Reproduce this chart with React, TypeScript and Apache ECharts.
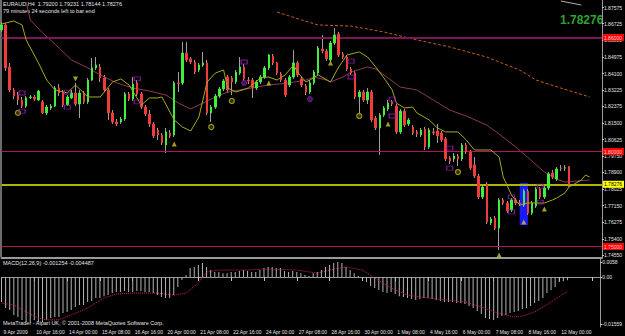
import React, { useEffect, useRef } from "react";
import * as echarts from "echarts";

// ---------- DATA ----------
const timeLabels = [
  "9 Apr 2009", "10 Apr 16:00", "14 Apr 00:00", "15 Apr 08:00", "16 Apr 16:00", "20 Apr 00:00",
  "21 Apr 08:00", "22 Apr 16:00", "24 Apr 00:00", "27 Apr 08:00", "28 Apr 16:00", "30 Apr 00:00",
  "1 May 08:00", "4 May 16:00", "6 May 00:00", "7 May 08:00", "8 May 16:00", "12 May 00:00",
];

// [open, high, low, close]
const candles: [number, number, number, number][] = [
  [1.8640, 1.8681, 1.8629, 1.8666], [1.8666, 1.8676, 1.8424, 1.8440], [1.8445, 1.8466, 1.8313, 1.8324],
  [1.8324, 1.8334, 1.8276, 1.8292], [1.8297, 1.8313, 1.8245, 1.8271], [1.8271, 1.8287, 1.8229, 1.8239],
  [1.8239, 1.8292, 1.8229, 1.8282], [1.8284, 1.8297, 1.8276, 1.8287], [1.8287, 1.8297, 1.8266, 1.8276],
  [1.8271, 1.8324, 1.8266, 1.8318], [1.8261, 1.8271, 1.8197, 1.8203], [1.8203, 1.8245, 1.8192, 1.8234],
  [1.8229, 1.8250, 1.8218, 1.8239], [1.8239, 1.8345, 1.8234, 1.8334], [1.8334, 1.8355, 1.8292, 1.8308],
  [1.8313, 1.8324, 1.8234, 1.8245], [1.8245, 1.8297, 1.8239, 1.8287], [1.8282, 1.8324, 1.8276, 1.8308],
  [1.8308, 1.8361, 1.8239, 1.8250], [1.8250, 1.8324, 1.8176, 1.8308], [1.8308, 1.8318, 1.8250, 1.8261],
  [1.8261, 1.8387, 1.8250, 1.8376], [1.8376, 1.8492, 1.8371, 1.8440], [1.8440, 1.8497, 1.8429, 1.8455],
  [1.8445, 1.8461, 1.8366, 1.8387], [1.8387, 1.8403, 1.8313, 1.8324], [1.8324, 1.8334, 1.8166, 1.8203],
  [1.8203, 1.8218, 1.8145, 1.8155], [1.8155, 1.8171, 1.8134, 1.8145], [1.8155, 1.8182, 1.8145, 1.8171],
  [1.8171, 1.8313, 1.8161, 1.8303], [1.8303, 1.8313, 1.8266, 1.8276], [1.8276, 1.8392, 1.8266, 1.8355],
  [1.8361, 1.8376, 1.8292, 1.8303], [1.8303, 1.8313, 1.8224, 1.8234], [1.8234, 1.8245, 1.8187, 1.8197],
  [1.8197, 1.8218, 1.8129, 1.8145], [1.8145, 1.8155, 1.8071, 1.8082], [1.8113, 1.8124, 1.8061, 1.8087],
  [1.8087, 1.8097, 1.8034, 1.8045], [1.8034, 1.8124, 1.7992, 1.8103], [1.8097, 1.8113, 1.8071, 1.8082],
  [1.8087, 1.8371, 1.8076, 1.8361], [1.8361, 1.8418, 1.8313, 1.8358], [1.8361, 1.8576, 1.8350, 1.8518],
  [1.8518, 1.8576, 1.8471, 1.8482], [1.8487, 1.8497, 1.8461, 1.8471], [1.8471, 1.8482, 1.8408, 1.8418],
  [1.8429, 1.8466, 1.8418, 1.8455], [1.8455, 1.8524, 1.8445, 1.8466], [1.8466, 1.8482, 1.8192, 1.8203],
  [1.8203, 1.8245, 1.8155, 1.8234], [1.8234, 1.8303, 1.8224, 1.8292], [1.8292, 1.8339, 1.8282, 1.8329],
  [1.8329, 1.8382, 1.8318, 1.8371], [1.8392, 1.8403, 1.8308, 1.8324], [1.8387, 1.8397, 1.8297, 1.8366],
  [1.8366, 1.8429, 1.8355, 1.8418], [1.8413, 1.8497, 1.8403, 1.8445], [1.8445, 1.8461, 1.8371, 1.8382],
  [1.8376, 1.8392, 1.8355, 1.8371], [1.8376, 1.8387, 1.8282, 1.8334], [1.8334, 1.8376, 1.8324, 1.8366],
  [1.8366, 1.8403, 1.8355, 1.8392], [1.8392, 1.8450, 1.8382, 1.8440], [1.8440, 1.8513, 1.8429, 1.8508],
  [1.8503, 1.8513, 1.8455, 1.8466], [1.8466, 1.8471, 1.8403, 1.8413], [1.8408, 1.8418, 1.8366, 1.8376],
  [1.8376, 1.8387, 1.8287, 1.8297], [1.8350, 1.8403, 1.8339, 1.8392], [1.8392, 1.8534, 1.8382, 1.8466],
  [1.8466, 1.8476, 1.8392, 1.8403], [1.8382, 1.8392, 1.8339, 1.8350], [1.8345, 1.8355, 1.8297, 1.8313],
  [1.8313, 1.8376, 1.8303, 1.8361], [1.8361, 1.8429, 1.8350, 1.8418], [1.8413, 1.8555, 1.8403, 1.8545],
  [1.8539, 1.8613, 1.8518, 1.8529], [1.8529, 1.8539, 1.8476, 1.8487], [1.8482, 1.8582, 1.8471, 1.8571],
  [1.8571, 1.8650, 1.8561, 1.8613], [1.8618, 1.8629, 1.8497, 1.8508], [1.8513, 1.8524, 1.8487, 1.8497],
  [1.8497, 1.8508, 1.8424, 1.8434], [1.8434, 1.8445, 1.8403, 1.8413], [1.8413, 1.8424, 1.8276, 1.8287],
  [1.8287, 1.8324, 1.8187, 1.8313], [1.8313, 1.8324, 1.8261, 1.8271], [1.8271, 1.8334, 1.8250, 1.8313],
  [1.8313, 1.8324, 1.8155, 1.8166], [1.8176, 1.8187, 1.8113, 1.8124], [1.8124, 1.8203, 1.7982, 1.8192],
  [1.8192, 1.8239, 1.8182, 1.8229], [1.8224, 1.8271, 1.8213, 1.8255], [1.8261, 1.8271, 1.8239, 1.8250],
  [1.8239, 1.8250, 1.8092, 1.8103], [1.8103, 1.8224, 1.8092, 1.8213], [1.8213, 1.8224, 1.8129, 1.8139],
  [1.8145, 1.8176, 1.8134, 1.8166], [1.8129, 1.8139, 1.8087, 1.8097], [1.8103, 1.8113, 1.8076, 1.8092],
  [1.8087, 1.8124, 1.8076, 1.8113], [1.8118, 1.8129, 1.8008, 1.8024], [1.8024, 1.8124, 1.8013, 1.8113],
  [1.8103, 1.8124, 1.8087, 1.8097], [1.8108, 1.8145, 1.8045, 1.8082], [1.8097, 1.8108, 1.8050, 1.8061],
  [1.8066, 1.8076, 1.7950, 1.7961], [1.7966, 1.7976, 1.7934, 1.7950], [1.7961, 1.7992, 1.7945, 1.7976],
  [1.7976, 1.7987, 1.7924, 1.7961], [1.7961, 1.8045, 1.7950, 1.8034], [1.8034, 1.8045, 1.7987, 1.7997],
  [1.7997, 1.8008, 1.7903, 1.7913], [1.7929, 1.7971, 1.7861, 1.7871], [1.7871, 1.7882, 1.7750, 1.7761],
  [1.7761, 1.7824, 1.7750, 1.7813], [1.7829, 1.7839, 1.7618, 1.7629], [1.7624, 1.7655, 1.7613, 1.7645],
  [1.7650, 1.7661, 1.7587, 1.7597], [1.7597, 1.7755, 1.7481, 1.7745], [1.7745, 1.7755, 1.7718, 1.7729],
  [1.7729, 1.7740, 1.7676, 1.7687], [1.7692, 1.7755, 1.7682, 1.7745], [1.7745, 1.7755, 1.7718, 1.7729],
  [1.7729, 1.7745, 1.7713, 1.7727], [1.7718, 1.7803, 1.7708, 1.7792], [1.7792, 1.7803, 1.7666, 1.7676],
  [1.7676, 1.7740, 1.7666, 1.7729], [1.7713, 1.7813, 1.7703, 1.7803], [1.7803, 1.7813, 1.7750, 1.7761],
  [1.7761, 1.7818, 1.7750, 1.7808], [1.7808, 1.7892, 1.7797, 1.7882], [1.7887, 1.7903, 1.7855, 1.7866],
  [1.7855, 1.7918, 1.7845, 1.7908], [1.7913, 1.7929, 1.7897, 1.7910], [1.7913, 1.7929, 1.7897, 1.7914],
  [1.79200, 1.79231, 1.78144, 1.78276],
];

// moving averages: [barIndex, price]
const fastMA: [number, number][] = [
  [0, 1.8671], [3, 1.8687], [5, 1.8666], [6, 1.8587], [9, 1.8466], [11, 1.8376], [13, 1.8324], [16, 1.8308],
  [18, 1.8350], [21, 1.8287], [24, 1.8287], [27, 1.8366], [29, 1.8382], [31, 1.8350], [34, 1.8245],
  [36, 1.8282], [38, 1.8282], [39, 1.8287], [42, 1.8166], [44, 1.8129], [46, 1.8108], [48, 1.8182],
  [50, 1.8366], [52, 1.8413], [54, 1.8429], [55, 1.8334], [57, 1.8313], [60, 1.8334], [63, 1.8387],
  [65, 1.8392], [67, 1.8376], [69, 1.8403], [71, 1.8455], [72, 1.8418], [74, 1.8366], [75, 1.8376],
  [77, 1.8403], [80, 1.8366], [82, 1.8445], [84, 1.8508], [87, 1.8524], [89, 1.8497], [91, 1.8445],
  [93, 1.8387], [95, 1.8324], [96, 1.8255], [98, 1.8229], [100, 1.8234], [101, 1.8203], [104, 1.8166],
  [106, 1.8124], [108, 1.8103], [111, 1.8103], [113, 1.8061], [115, 1.8008], [119, 1.8008], [121, 1.7971],
  [122, 1.7866], [124, 1.7771], [126, 1.7718], [128, 1.7729], [132, 1.7729], [134, 1.7745], [135, 1.7755],
  [137, 1.7782], [138, 1.7813], [141, 1.7850], [142, 1.7876], [143, 1.7866],
];
const slowMA: [number, number][] = [
  [6, 1.8787], [7, 1.8692], [10, 1.8624], [14, 1.8545], [17, 1.8482], [21, 1.8440], [24, 1.8403],
  [28, 1.8361], [32, 1.8334], [36, 1.8318], [40, 1.8297], [43, 1.8255], [46, 1.8224], [49, 1.8255],
  [52, 1.8287], [55, 1.8313], [58, 1.8324], [62, 1.8339], [65, 1.8350], [70, 1.8361], [74, 1.8376],
  [76, 1.8392], [79, 1.8376], [80, 1.8366], [83, 1.8392], [85, 1.8418], [89, 1.8445], [91, 1.8434],
  [94, 1.8387], [97, 1.8339], [101, 1.8324], [105, 1.8271], [109, 1.8218], [113, 1.8187], [118, 1.8139],
  [121, 1.8092], [125, 1.8024], [129, 1.7950], [132, 1.7892], [135, 1.7855], [137, 1.7839], [140, 1.7845],
  [143, 1.7850],
];
const longMA: [number, number][] = [
  [67, 1.8734], [73, 1.8692], [77, 1.8666], [85, 1.8660], [93, 1.8629], [101, 1.8587], [109, 1.8550],
  [118, 1.8497], [126, 1.8429], [130, 1.8376], [136, 1.8334], [143, 1.8287],
];
const topMA: [number, number][] = [[136, 1.8792], [141, 1.8771]];

// MACD (main histogram) per bar, and its signal line
const macdMain = [
  -0.0097, -0.0120, -0.0128, -0.0147, -0.0155, -0.0166, -0.0174, -0.0174, -0.0166, -0.0174,
  -0.0174, -0.0166, -0.0159, -0.0155, -0.0155, -0.0139, -0.0135, -0.0128, -0.0116, -0.0108,
  -0.0108, -0.0097, -0.0093, -0.0081, -0.0081, -0.0074, -0.0070, -0.0062, -0.0058, -0.0058,
  -0.0054, -0.0058, -0.0058, -0.0054, -0.0054, -0.0058, -0.0058, -0.0062, -0.0070, -0.0077,
  -0.0081, -0.0081, -0.0070, -0.0039, -0.0012, 0.0008, 0.0035, 0.0039, 0.0046, 0.0054,
  0.0039, 0.0027, 0.0019, 0.0019, 0.0015, 0.0015, 0.0019, 0.0019, 0.0023, 0.0027,
  0.0023, 0.0019, 0.0019, 0.0027, 0.0035, 0.0039, 0.0039, 0.0035, 0.0035, 0.0023,
  0.0019, 0.0023, 0.0019, 0.0015, 0.0008, 0.0004, 0.0015, 0.0019, 0.0027, 0.0039,
  0.0046, 0.0054, 0.0058, 0.0054, 0.0039, 0.0027, 0.0015, 0.0004, -0.0008, -0.0019,
  -0.0035, -0.0043, -0.0050, -0.0058, -0.0062, -0.0058, -0.0066, -0.0074, -0.0077, -0.0081,
  -0.0085, -0.0089, -0.0085, -0.0081, -0.0081, -0.0085, -0.0089, -0.0093, -0.0097, -0.0097,
  -0.0097, -0.0101, -0.0101, -0.0104, -0.0112, -0.0120, -0.0132, -0.0143, -0.0159, -0.0163,
  -0.0166, -0.0159, -0.0151, -0.0147, -0.0139, -0.0135, -0.0132, -0.0124, -0.0120, -0.0112,
  -0.0101, -0.0093, -0.0081, -0.0062, -0.0050, -0.0039, -0.0019, -0.0016, -0.0013,
];
const macdSignal: [number, number][] = [
  [0, -0.0101], [3, -0.0108], [6, -0.0135], [9, -0.0159], [11, -0.0166], [14, -0.0166], [17, -0.0147],
  [21, -0.0120], [25, -0.0081], [28, -0.0066], [32, -0.0062], [38, -0.0062], [42, -0.0070], [45, -0.0062],
  [48, -0.0023], [50, 0.0019], [53, 0.0027], [60, 0.0027], [64, 0.0031], [72, 0.0027], [77, 0.0015],
  [80, 0.0027], [84, 0.0039], [88, 0.0027], [91, -0.0004], [95, -0.0043], [99, -0.0070], [104, -0.0081],
  [113, -0.0097], [117, -0.0116], [121, -0.0139], [125, -0.0155], [127, -0.0151], [130, -0.0135],
  [134, -0.0097], [138, -0.0055],
];

// markers: [barIndex, price]
const yellowCircles: [number, number][] = [[4, 1.8203], [51, 1.8129], [56, 1.8266], [87, 1.8187], [111, 1.7892]];
const upArrows: [number, number][] = [[42, 1.8039], [65, 1.8361], [80, 1.8466], [94, 1.8145], [121, 1.7455], [127, 1.7629], [132, 1.7697]];
const downArrows: [number, number][] = [[18, 1.8382]];
const purpleSquares: [number, number][] = [
  [5, 1.8308], [5, 1.8213], [16, 1.8313], [16, 1.8234], [33, 1.8382], [33, 1.8261], [59, 1.8471],
  [85, 1.8476], [85, 1.8392], [95, 1.8276], [95, 1.8187], [109, 1.8018], [109, 1.7913],
  [124, 1.7761], [124, 1.7682], [131, 1.7818], [131, 1.7734],
];
const purpleDots: [number, number][] = [[59, 1.8361], [75, 1.8276]];
const highlightBox: [number, number][] = [[126, 1.7834], [128, 1.7613]];

// axis ticks and levels
const priceTicks = [1.87575, 1.86725, 1.8585, 1.84975, 1.841, 1.83225, 1.82375, 1.815, 1.80625, 1.7975, 1.789, 1.78025, 1.7715, 1.76275, 1.754, 1.7455];
const levelLines = [1.86, 1.8, 1.75];
const bidPrice = 1.78276;
const macdTicks = [0.0058, 0, -0.0182];
const macdTickLabels = ["0.0058", "0.00", "-0.01559"];

const TOTAL_SLOTS = 147;

export default function App() {
  const ref = useRef<HTMLDivElement>(null);
  useEffect(() => {
    document.body.style.margin = "0";
    document.body.style.background = "#000";
    const chart = echarts.init(ref.current!, null, { renderer: "svg" });
    const cats = Array.from({ length: TOTAL_SLOTS }, (_, i) => String(i));
    const wickData = candles.map(([o, h, l, c]) => [o, c, l, h]);
    const bodyData = candles.map(([o, , , c]) => [o, c, Math.min(o, c), Math.max(o, c)]);
    const font = "Liberation Sans";
    const txt = "#e4e4e4";

    const option: any = {
      animation: false,
      backgroundColor: "#000000",
      textStyle: { fontFamily: font },
      grid: [
        { left: 1.5, right: 20, top: 0, height: 258 },
        { left: 1.5, right: 20, top: 259, height: 68 },
      ],
      xAxis: [
        {
          type: "category", gridIndex: 0, data: cats, boundaryGap: false,
          axisLine: { show: true, lineStyle: { color: "#9a9a9a", width: 2 } },
          axisTick: { show: false }, axisLabel: { show: false }, splitLine: { show: false },
        },
        {
          type: "category", gridIndex: 1, data: cats, boundaryGap: false,
          axisLine: { show: true, lineStyle: { color: "#9a9a9a", width: 1 } },
          axisTick: { show: true, interval: 7, length: 4, lineStyle: { color: "#c8c8c8" } },
          axisLabel: {
            interval: 7, align: "left", margin: 2, color: txt, fontSize: 5, fontFamily: font,
            padding: [0, 0, 0, 2],
            formatter: (_v: string, i: number) => timeLabels[Math.round(i / 8)] ?? "",
          },
          splitLine: { show: false },
        },
      ],
      yAxis: [
        {
          type: "value", gridIndex: 0, position: "right", min: 1.74395, max: 1.87974,
          axisLine: { show: true, lineStyle: { color: "#9a9a9a" } },
          axisTick: { show: true, length: 2, customValues: priceTicks, lineStyle: { color: "#c8c8c8" } },
          axisLabel: { customValues: priceTicks, formatter: (v: number) => v.toFixed(5), color: txt, fontSize: 5, margin: 2, fontFamily: font },
          splitLine: { show: false },
        },
        {
          type: "value", gridIndex: 1, position: "right", min: -0.01935, max: 0.00697,
          axisLine: { show: true, lineStyle: { color: "#9a9a9a" } },
          axisTick: { show: true, length: 2, customValues: macdTicks, lineStyle: { color: "#c8c8c8" } },
          axisLabel: {
            customValues: macdTicks, color: txt, fontSize: 5, margin: 2, fontFamily: font,
            formatter: (v: number) => {
              const k = macdTicks.findIndex((t) => Math.abs(t - v) < 1e-9);
              return k >= 0 ? macdTickLabels[k] : "";
            },
          },
          splitLine: { show: false },
        },
      ],
      series: [
        {
          type: "candlestick", name: "wick", xAxisIndex: 0, yAxisIndex: 0, data: wickData, barWidth: 1, z: 2, clip: false,
          itemStyle: { color: "#a0a0a0", color0: "#a0a0a0", borderColor: "#a0a0a0", borderColor0: "#a0a0a0", borderWidth: 1 },
          markArea: {
            silent: true,
            itemStyle: { color: "#1a1aff", opacity: 1 },
            data: [[{ coord: highlightBox[0] }, { coord: highlightBox[1] }]],
          },
          markLine: {
            silent: true, symbol: ["none", "none"], precision: 5,
            data: [
              ...levelLines.map((v, i) => ({
                yAxis: v,
                lineStyle: { color: i === 0 ? "#7c1656" : "#b0155e", width: i === 0 ? 2 : 1, type: "solid" },
                label: {
                  show: true, position: "end", distance: 1, formatter: v.toFixed(5), fontSize: 5,
                  color: "#ffd0d0", backgroundColor: "#ff0000", padding: [1, 2, 1, 1], fontFamily: font,
                },
              })),
              {
                yAxis: bidPrice,
                lineStyle: { color: "#b4b400", width: 2, type: "solid" },
                label: {
                  show: true, position: "end", distance: 1, formatter: bidPrice.toFixed(5), fontSize: 5,
                  color: "#000000", backgroundColor: "#ffff00", padding: [1, 2, 1, 1], fontFamily: font,
                },
              },
            ],
          },
        },
        {
          type: "candlestick", name: "body", xAxisIndex: 0, yAxisIndex: 0, data: bodyData, barWidth: 2, z: 5, clip: false,
          itemStyle: { color: "#3cf03c", color0: "#f03c3c", borderColor: "#3cf03c", borderColor0: "#f03c3c", borderWidth: 1 },
        },
        { type: "line", xAxisIndex: 0, yAxisIndex: 0, data: slowMA, symbol: "none", z: 3, lineStyle: { color: "#8a3a55", width: 1 } },
        { type: "line", xAxisIndex: 0, yAxisIndex: 0, data: fastMA, symbol: "none", z: 6, lineStyle: { color: "#a8a81c", width: 1 } },
        { type: "line", xAxisIndex: 0, yAxisIndex: 0, data: longMA, symbol: "none", z: 3, lineStyle: { color: "#c0601c", width: 1, type: [3, 2] } },
        { type: "line", xAxisIndex: 0, yAxisIndex: 0, data: topMA, symbol: "none", z: 3, lineStyle: { color: "#b0b0b0", width: 1 } },
        {
          type: "scatter", xAxisIndex: 0, yAxisIndex: 0, data: yellowCircles, symbol: "circle", symbolSize: 5, z: 7,
          itemStyle: { color: "#3a3a00", borderColor: "#b8b820", borderWidth: 1.2 },
        },
        {
          type: "scatter", xAxisIndex: 0, yAxisIndex: 0, data: upArrows, symbol: "triangle", symbolSize: [5, 5], z: 7,
          itemStyle: { color: "#c8c828" },
        },
        {
          type: "scatter", xAxisIndex: 0, yAxisIndex: 0, data: downArrows, symbol: "triangle", symbolRotate: 180, symbolSize: [5, 5], z: 7,
          itemStyle: { color: "#c8c828" },
        },
        {
          type: "scatter", xAxisIndex: 0, yAxisIndex: 0, data: purpleSquares, symbol: "rect", symbolSize: [6, 4], z: 7,
          itemStyle: { color: "rgba(0,0,0,0)", borderColor: "#9a22b8", borderWidth: 1 },
        },
        {
          type: "scatter", xAxisIndex: 0, yAxisIndex: 0, data: purpleDots, symbol: "circle", symbolSize: 5, z: 7,
          itemStyle: { color: "#5c1478", borderColor: "#8a2aa8", borderWidth: 1 },
        },
        {
          type: "bar", xAxisIndex: 1, yAxisIndex: 1, data: macdMain, barWidth: 1, z: 2,
          itemStyle: { color: "#b4b4b4" },
        },
        {
          type: "line", xAxisIndex: 1, yAxisIndex: 1, data: macdSignal, symbol: "none", z: 3,
          lineStyle: { color: "#d0206a", width: 1, type: "dotted" },
        },
      ],
      graphic: [
        { type: "line", shape: { x1: 1, y1: 0, x2: 1, y2: 257 }, style: { stroke: "#d8d8d8", lineWidth: 1 }, z: 1 },
        { type: "text", left: 3, top: 1, style: { text: "EURAUD,H4  1.79200 1.79231 1.78144 1.78276", fill: txt, fontSize: 5.5, fontFamily: font } },
        { type: "text", left: 3, top: 8, style: { text: "79 minutes 24 seconds left to bar end", fill: txt, fontSize: 5.5, fontFamily: font } },
        { type: "text", left: 560, top: 14, style: { text: "1.78276", fill: "#2ea42e", fontSize: 12, fontWeight: "bold", fontFamily: font } },
        { type: "text", left: 3, top: 260, style: { text: "MACD(12,26,9) -0.001254 -0.004487", fill: txt, fontSize: 5.5, fontFamily: font } },
        { type: "text", left: 3, top: 320, style: { text: "MetaTrader - Alpari UK, \u00a9 2001-2008 MetaQuotes Software Corp.", fill: txt, fontSize: 5.5, fontFamily: font } },
      ],
    };
    chart.setOption(option);
    return () => chart.dispose();
  }, []);
  return <div ref={ref} style={{ width: 625, height: 336, background: "#000" }} />;
}
